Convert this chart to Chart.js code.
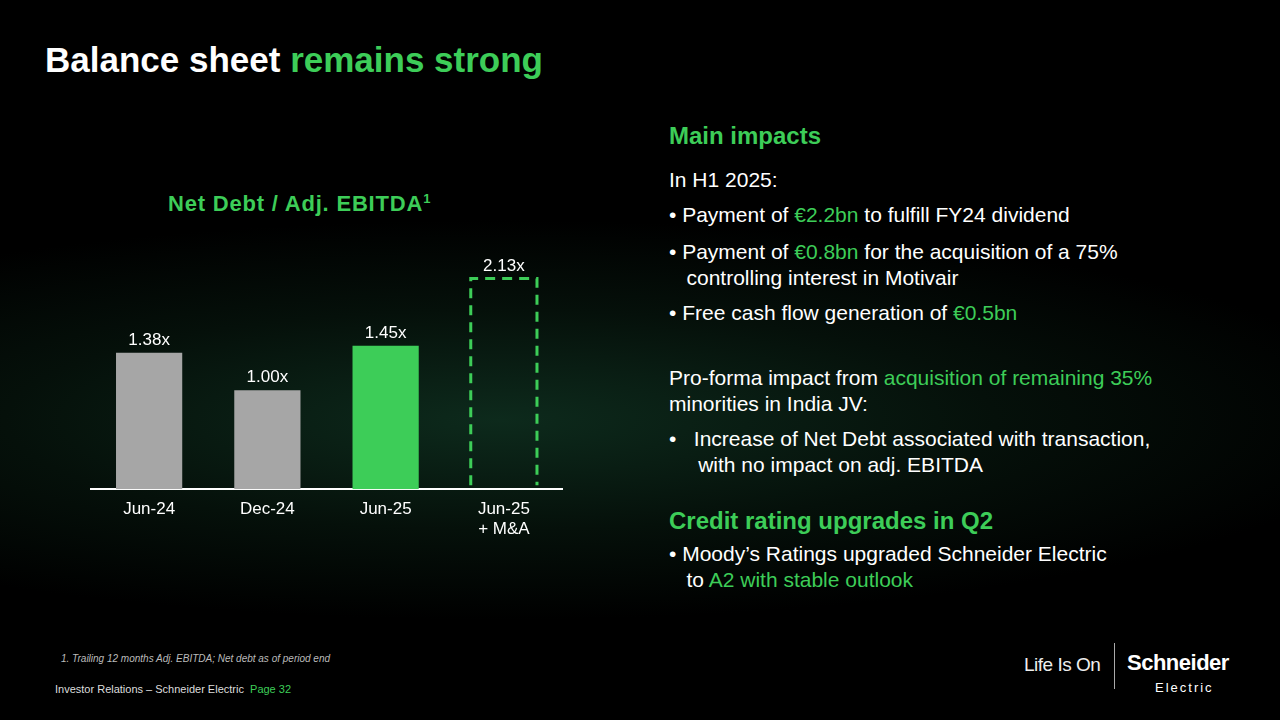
<!DOCTYPE html>
<html><head><meta charset="utf-8">
<script src="https://cdn.jsdelivr.net/npm/chart.js@4.4.1/dist/chart.umd.min.js"></script>
<style>
body{margin:0;width:1280px;height:720px;overflow:hidden;font-family:"Liberation Sans",Arial,sans-serif;color:#fff;
background:radial-gradient(ellipse 900px 200px at 500px 420px,#0d2a1c 0%,#05100a 55%,#000 100%);position:relative}
.a{position:absolute;white-space:nowrap}
.g{color:#3dcd58}
.b{font-size:21px;line-height:26px}
</style></head><body>
<div class="a" style="left:45px;top:40px;font-size:35px;font-weight:bold">Balance sheet <span class="g">remains strong</span></div>
<div class="a g" style="left:168px;top:191px;font-size:22px;font-weight:bold;letter-spacing:0.8px">Net Debt / Adj. EBITDA<sup style="font-size:13px">1</sup></div>
<div class="a" style="left:90px;top:242px;width:473px;height:300px"><canvas id="c"></canvas></div>
<div class="a g" style="left:669px;top:122px;font-size:24px;font-weight:bold">Main impacts</div>
<div class="a b" style="left:669px;top:167px">In H1 2025:</div>
<div class="a b" style="left:669px;top:202px">• Payment of <span class="g">€2.2bn</span> to fulfill FY24 dividend</div>
<div class="a b" style="left:669px;top:239px">• Payment of <span class="g">€0.8bn</span> for the acquisition of a 75%<br>&nbsp;&nbsp;&nbsp;controlling interest in Motivair</div>
<div class="a b" style="left:669px;top:300px">• Free cash flow generation of <span class="g">€0.5bn</span></div>
<div class="a b" style="left:669px;top:365px">Pro-forma impact from <span class="g">acquisition of remaining 35%</span><br>minorities in India JV:</div>
<div class="a b" style="left:669px;top:426px">•&nbsp;&nbsp;&nbsp;Increase of Net Debt associated with transaction,<br>&nbsp;&nbsp;&nbsp;&nbsp;&nbsp;with no impact on adj. EBITDA</div>
<div class="a g" style="left:669px;top:507px;font-size:24px;font-weight:bold">Credit rating upgrades in Q2</div>
<div class="a b" style="left:669px;top:541px">• Moody’s Ratings upgraded Schneider Electric<br>&nbsp;&nbsp;&nbsp;to <span class="g">A2 with stable outlook</span></div>
<div class="a" style="left:61px;top:653px;font-size:10px;font-style:italic;color:#bbb">1. Trailing 12 months Adj. EBITDA; Net debt as of period end</div>
<div class="a" style="left:55px;top:683px;font-size:11px;color:#ddd">Investor Relations – Schneider Electric&nbsp; <span class="g">Page 32</span></div>
<div class="a" style="left:1024px;top:654px;font-size:19px;color:#eee;letter-spacing:-0.5px">Life Is On</div>
<div class="a" style="left:1114px;top:643px;width:1px;height:46px;background:#aaa"></div>
<div class="a" style="left:1127px;top:652px;font-size:22px;font-weight:bold;line-height:22px;letter-spacing:-0.5px">Schneider<br><span style="font-size:13px;font-weight:normal;letter-spacing:2px;padding-left:28px">Electric</span></div>
<script>
const categories=[["Jun-24"],["Dec-24"],["Jun-25"],["Jun-25","+ M&A"]];
const values=[1.38,1.00,1.45,2.13];
const valueLabels=["1.38x","1.00x","1.45x","2.13x"];
const fills=["#a6a6a6","#a6a6a6","#3dcd58","rgba(0,0,0,0)"];
const deco={id:'deco',afterDatasetsDraw(ch){
 const c=ch.ctx,m=ch.getDatasetMeta(0);
 c.save();c.font='17px "Liberation Sans",Arial';c.fillStyle='#fff';c.textAlign='center';
 m.data.forEach((b,i)=>{c.fillText(valueLabels[i],b.x,b.y-8);});
 const b=m.data[3];c.strokeStyle='#3dcd58';c.lineWidth=3;c.setLineDash([10,7]);
 c.beginPath();c.moveTo(b.x-b.width/2,b.base-4);c.lineTo(b.x-b.width/2,b.y);c.lineTo(b.x+b.width/2,b.y);c.lineTo(b.x+b.width/2,b.base-4);c.stroke();
 c.restore();}};
new Chart(document.getElementById('c'),{type:'bar',
data:{labels:categories,datasets:[{data:values,backgroundColor:fills,barPercentage:0.56,categoryPercentage:1}]},
options:{responsive:true,maintainAspectRatio:false,animation:false,
layout:{padding:0},
plugins:{legend:{display:false},tooltip:{enabled:false}},
scales:{y:{display:false,min:0,max:2.5},
x:{grid:{display:false},border:{color:'#fff',width:2},ticks:{color:'#fff',font:{size:17,family:'"Liberation Sans",Arial'},padding:2}}}},
plugins:[deco]});
</script>
</body></html>
